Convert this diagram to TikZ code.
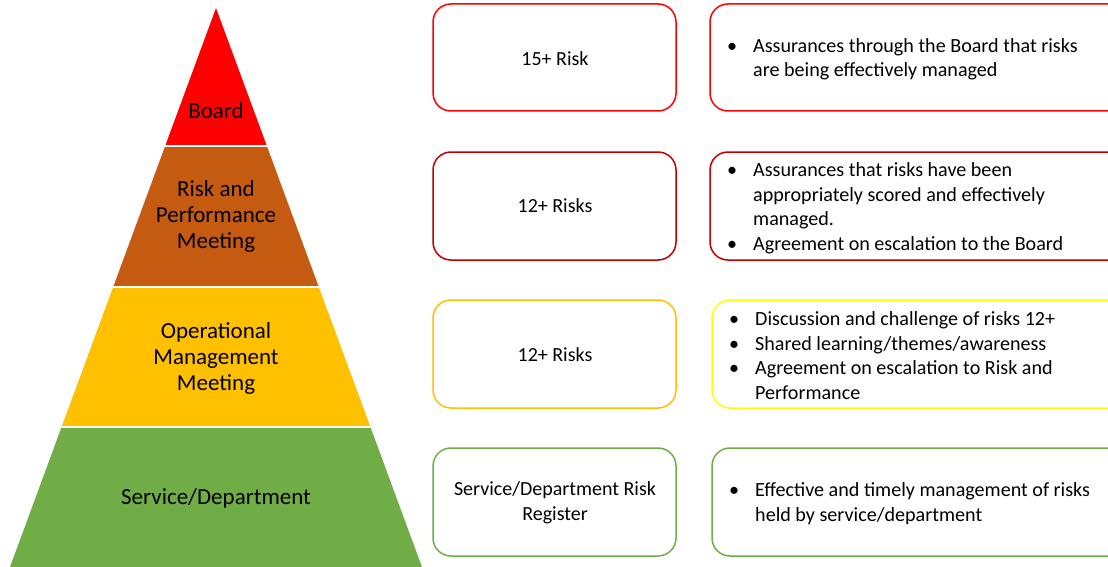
\documentclass[tikz,border=0pt]{standalone}
\usepackage{fontspec}
\setmainfont{Carlito}
\begin{document}
\definecolor{boardred}{HTML}{FF0000}
\definecolor{riskbrown}{HTML}{C55A11}
\definecolor{opamber}{HTML}{FFC000}
\definecolor{servgreen}{HTML}{70AD47}
\definecolor{darkred}{HTML}{C00000}
\definecolor{brightyellow}{HTML}{FFFF00}
\newcommand{\bitem}[1]{\makebox[26pt][l]{•}#1}
\newcommand{\bcont}[1]{\hspace*{26pt}#1}
\begin{tikzpicture}[x=1pt,y=-1pt,
  tier/.style={font=\fontsize{23}{26}\selectfont, align=center, inner sep=0pt},
  riskbox/.style={rounded corners=18pt, line width=1.5pt, fill=white},
  boxtext/.style={font=\fontsize{20}{24.5}\selectfont, align=center, inner sep=0pt},
  listtext/.style={font=\fontsize{20.1}{24.5}\selectfont, align=left, inner sep=0pt, anchor=west}]
\useasboundingbox (0,0) rectangle (1108,567);
\clip (0,0) rectangle (1108,567);

% pyramid, cut into four tiers
\begin{scope}
  \clip (216,8) -- (10,567) -- (422,567) -- cycle;
  \fill[boardred]  (0,0)   rectangle (440,146);
  \fill[riskbrown] (0,146) rectangle (440,287);
  \fill[opamber]   (0,287) rectangle (440,427);
  \fill[servgreen] (0,427) rectangle (440,580);
  \draw[white, line width=2pt] (0,146) -- (440,146) (0,287) -- (440,287) (0,427) -- (440,427);
\end{scope}
\node[tier] (board) at (216,111) {Board};
\node[tier] (riskperf) at (216,216) {Risk and\\Performance\\Meeting};
\node[tier] (opmgmt) at (216,358) {Operational\\Management\\Meeting};
\node[tier] (service) at (216,498) {Service/Department};

% risk thresholds
\draw[riskbox, draw=boardred]   (433,4)   rectangle (676,111);
\draw[riskbox, draw=darkred]    (433,152) rectangle (676,260);
\draw[riskbox, draw=opamber]    (433,300) rectangle (676,408);
\draw[riskbox, draw=servgreen]  (433,448) rectangle (676,556);
\node[boxtext] (t1) at (555,59)  {15+ Risk};
\node[boxtext] (t2) at (555,206) {12+ Risks};
\node[boxtext] (t3) at (555,355) {12+ Risks};
\node[boxtext] (t4) at (555,503) {Service/Department Risk\\Register};

% responsibilities
\draw[riskbox, draw=boardred]     (710,4)   rectangle (1130,111);
\draw[riskbox, draw=darkred]      (710,152) rectangle (1130,260);
\draw[riskbox, draw=brightyellow] (712,300) rectangle (1130,408);
\draw[riskbox, draw=servgreen]    (712,448) rectangle (1130,556);
\node[listtext] (r1) at (727,59) {\bitem{Assurances through the Board that risks}\\
  \bcont{are being effectively managed}};
\node[listtext] (r2) at (727,208) {\bitem{Assurances that risks have been}\\
  \bcont{appropriately scored and effectively}\\
  \bcont{managed.}\\
  \bitem{Agreement on escalation to the Board}};
\node[listtext] (r3) at (729,355.5) {\bitem{Discussion and challenge of risks 12+}\\
  \bitem{Shared learning/themes/awareness}\\
  \bitem{Agreement on escalation to Risk and}\\
  \bcont{Performance}};
\node[listtext] (r4) at (729,503.5) {\bitem{Effective and timely management of risks}\\
  \bcont{held by service/department}};
\end{tikzpicture}
\end{document}
